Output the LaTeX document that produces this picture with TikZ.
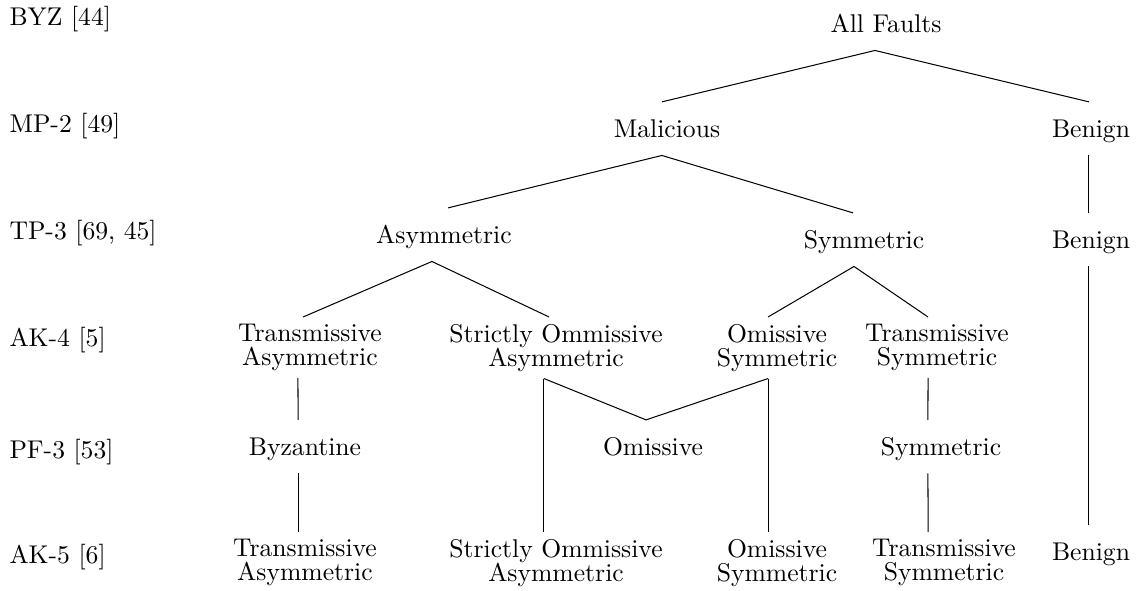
\documentclass[tikz,border=0pt]{standalone}

\begin{document}
\begin{tikzpicture}[x=0.39pt, y=-0.39pt,
  lab/.style={anchor=base west, inner sep=0pt},
  cls/.style={anchor=base, inner xsep=0pt, inner ysep=7pt, text height=6.5pt, text depth=0pt},
  pair/.style={anchor=north, align=center, inner xsep=0pt, inner ysep=2.5pt, font=\fontsize{10}{9.5}\selectfont}]
  \useasboundingbox (0,0) rectangle (1137,590);

  % fault models, one per row
  \node[lab] (byzl) at (9,26) {BYZ [44]};
  \node[lab] (mp2) at (9,132) {MP-2 [49]};
  \node[lab] (tp3) at (9,239) {TP-3 [69, 45]};
  \node[lab] (ak4) at (9,346) {AK-4 [5]};
  \node[lab] (pf3) at (9,458) {PF-3 [53]};
  \node[lab] (ak5) at (9,563) {AK-5 [6]};

  \node[cls] (all) at (886,32) {All Faults};

  \node[cls] (mal) at (667,137) {Malicious};
  \node[cls] (ben2) at (1091,137) {Benign};

  \node[cls] (asym) at (444,243) {Asymmetric};
  \node[cls] (sym) at (864,248) {Symmetric};
  \node[cls] (ben3) at (1091,248) {Benign};

  \node[pair] (ta4) at (310,317) {Transmissive\\Asymmetric};
  \node[pair] (soa4) at (556,317) {Strictly Ommissive\\Asymmetric};
  \node[pair] (os4) at (777,317) {Omissive\\Symmetric};
  \node[pair] (ts4) at (937,317) {Transmissive\\Symmetric};

  \node[cls] (byzant) at (305,455) {Byzantine};
  \node[cls] (omis) at (653,455) {Omissive};
  \node[cls] (symm) at (941,455) {Symmetric};

  \node[pair] (ta5) at (305,532) {Transmissive\\Asymmetric};
  \node[pair] (soa5) at (556,532) {Strictly Ommissive\\Asymmetric};
  \node[pair] (os5) at (777,532) {Omissive\\Symmetric};
  \node[pair] (ts5) at (944,532) {Transmissive\\Symmetric};
  \node[cls] (ben5) at (1091,560) {Benign};

  % edges
  \draw ([xshift=-4.3pt]all.south) -- ([xshift=-2pt]mal.north);
  \draw ([xshift=-4.3pt]all.south) -- ([xshift=-0.8pt]ben2.north);
  \draw ([xshift=-2pt]mal.south) -- ([xshift=1.6pt]asym.north);
  \draw ([xshift=-2pt]mal.south) -- ([xshift=-4.3pt]sym.north);
  \draw ([xshift=-0.8pt]ben2.south) -- ([xshift=-0.8pt]ben3.north);

  \draw ([xshift=-4.7pt]asym.south) -- ([xshift=-2.7pt]ta4.north);
  \draw ([xshift=-4.7pt]asym.south) -- ([xshift=-2.7pt]soa4.north);
  \draw ([xshift=-3.9pt]sym.south) -- ([xshift=-3.5pt]os4.north);
  \draw ([xshift=-3.9pt]sym.south) -- ([xshift=-3.5pt]ts4.north);
  \draw ([xshift=-0.8pt]ben3.south) -- ([xshift=-0.8pt]ben5.north);

  \draw ([xshift=-4.7pt]ta4.south) -- ([xshift=-2.7pt]byzant.north);
  \draw ([xshift=-4.7pt]soa4.south) -- ([xshift=-4.7pt]soa5.north);
  \draw ([xshift=-4.7pt]soa4.south) -- ([xshift=-2.7pt]omis.north);
  \draw ([xshift=-3.5pt]os4.south) -- ([xshift=-2.7pt]omis.north);
  \draw ([xshift=-3.5pt]os4.south) -- ([xshift=-3.5pt]os5.north);
  \draw ([xshift=-3.5pt]ts4.south) -- ([xshift=-5.1pt]symm.north);

  \draw ([xshift=-2.7pt]byzant.south) -- ([xshift=-2.7pt]ta5.north);
  \draw ([xshift=-5.1pt]symm.south) -- ([xshift=-6.2pt]ts5.north);
\end{tikzpicture}
\end{document}
